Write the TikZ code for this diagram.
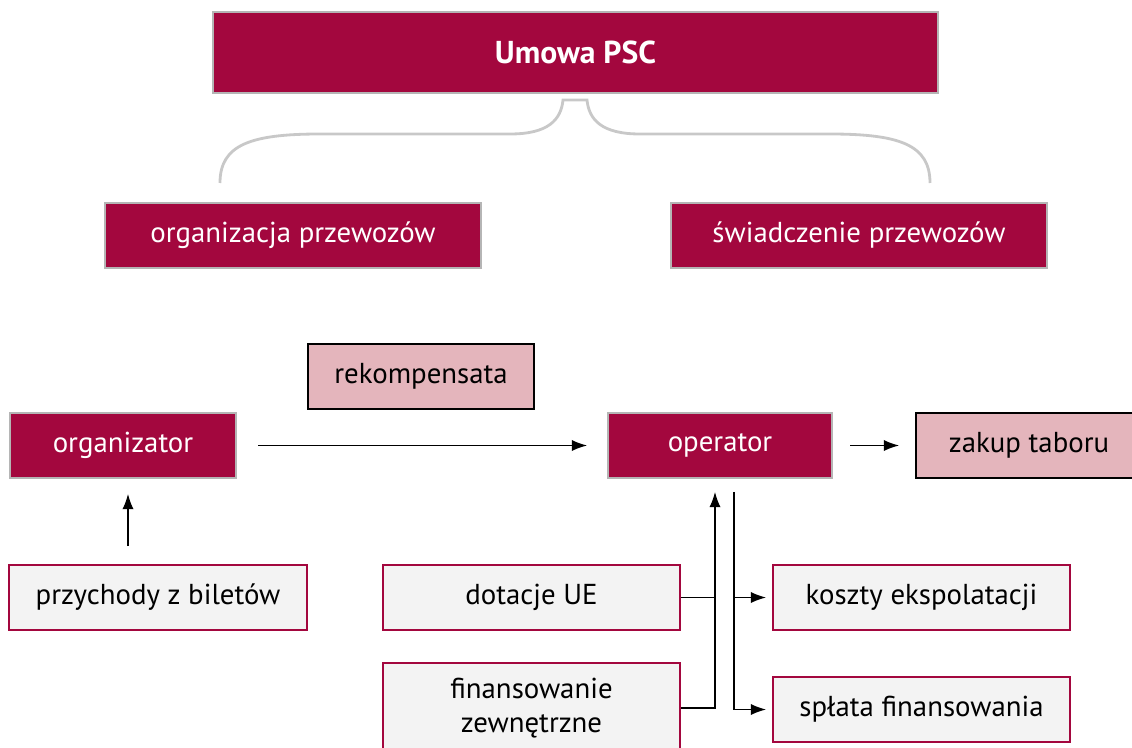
\documentclass[tikz,border=0pt]{standalone}
\usepackage{fontspec}
\setmainfont{PT Sans}
\usetikzlibrary{positioning,calc,arrows.meta}
\definecolor{wino}{HTML}{A3073E}
\definecolor{roz}{HTML}{E4B5BC}
\definecolor{jasny}{HTML}{F3F3F3}
\definecolor{ramka}{HTML}{B5B5B5}
\definecolor{klamra}{HTML}{C8C8C8}
\begin{document}
\begin{tikzpicture}[x=0.025cm, y=-0.025cm, line cap=butt,
    glowny/.style={draw=ramka, line width=1.4pt, fill=wino, text=white,
      minimum height=1.625cm, inner sep=0pt, font=\fontsize{20.5}{24}\selectfont},
    rozowy/.style={draw=black, line width=1.4pt, fill=roz,
      minimum width=5.65cm, minimum height=1.625cm, inner sep=0pt, font=\fontsize{20.5}{24}\selectfont},
    szary/.style={draw=wino, line width=1.4pt, fill=jasny, align=center,
      minimum width=7.425cm, minimum height=1.625cm, inner sep=0pt, font=\fontsize{20.5}{24}\selectfont},
    strz/.style={line width=0.9pt, -{Latex[length=3.8mm, width=2.8mm]}},
    linia/.style={line width=0.9pt}]
  \useasboundingbox (0,0) rectangle (1132,748);
  % gora: umowa i dwie czesci
  \node[glowny, minimum width=18.125cm, minimum height=2.025cm,
    font=\fontsize{22.5}{26}\selectfont\bfseries] (umowa) at (575.5,52.5) {Umowa PSC};
  \node[glowny, minimum width=9.4cm] (organizacja) at (293,235.5) {organizacja przewozów};
  \node[glowny, minimum width=9.4cm] (swiadczenie) at (859,235.5) {świadczenie przewozów};
  % klamra
  \draw[klamra, line width=2pt] (220,183) .. controls (220,145) and (250,134) .. (320,134)
    -- (510,134) .. controls (548,134) and (561,120) .. (563,100) -- (587,100)
    .. controls (589,120) and (602,134) .. (640,134) -- (830,134)
    .. controls (900,134) and (930,145) .. (930,183);
  % srodek: przeplyw pieniedzy
  \node[rozowy] (rekompensata) at (421,376.5) {rekompensata};
  \node[glowny, minimum width=5.65cm] (organizator) at (123,445.5) {organizator};
  \node[glowny, minimum width=5.6cm] (operator) at (720,445.5) {operator};
  \node[rozowy] (zakup) at (1029,445.5) {zakup taboru};
  \draw[strz, shorten <=0.525cm, shorten >=0.5cm] (organizator) -- (operator);
  \draw[strz, shorten <=0.425cm, shorten >=0.4cm] (operator) -- (zakup);
  % dol: zrodla i wydatki
  \node[szary] (przychody) at (158,597.5) {przychody z biletów};
  \node[szary] (dotacje) at (531.5,597.5) {dotacje UE};
  \node[szary, minimum height=2.25cm] (finansowanie) at (531.5,708) {finansowanie\\zewnętrzne};
  \node[szary] (koszty) at (921.5,597.5) {koszty ekspolatacji};
  \node[szary] (splata) at (921.5,709.5) {spłata finansowania};
  \coordinate (bilety) at ($(organizator.south)+(5,0)$);
  \draw[strz, shorten <=0.45cm, shorten >=0.375cm] (przychody.north -| bilety) -- (bilety);
  \coordinate (wej) at ($(operator.south)+(-5,13)$);
  \coordinate (wyj) at ($(operator.south)+(14,13)$);
  \draw[strz] (finansowanie.east) -| (wej);
  \draw[linia] (dotacje.east) -- (dotacje.east -| wej);
  \draw[strz, shorten >=0.15cm] (wyj) |- (splata.west);
  \draw[strz, shorten >=0.15cm] (wyj |- koszty.west) -- (koszty.west);
\end{tikzpicture}
\end{document}
